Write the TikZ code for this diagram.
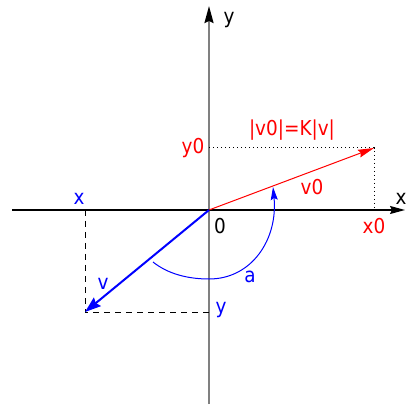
\documentclass[tikz,border=0pt]{standalone}
\usepackage{fontspec}
\setmainfont{DejaVu Sans Condensed}
\usetikzlibrary{arrows.meta}
\begin{document}
\begin{tikzpicture}[x=1pt,y=1pt,
  lbl/.style={inner sep=0pt,font=\fontsize{20.5}{23}\selectfont},
  axtip/.style={-{Stealth[length=15pt,width=8pt,inset=2pt]}},
  dotln/.style={line width=1pt,dash pattern=on 1.3pt off 2.7pt},
  dashln/.style={line width=1pt,dash pattern=on 6pt off 5pt}]
\useasboundingbox (0,0) rectangle (406,404);
% coordinates
\coordinate (O) at (209,194);
\coordinate (xs) at (12,194);
\coordinate (xe) at (405,194);
\coordinate (ys) at (209,0);
\coordinate (ye) at (209,398);
\coordinate (R) at (374,256);
\coordinate (Ry) at (209,256);
\coordinate (Rx) at (374,194);
\coordinate (B) at (85,92);
\coordinate (Bx) at (85,194);
\coordinate (By) at (209,92);
\coordinate (A1) at (153,142);
\coordinate (A2) at (209,125);
\coordinate (A3) at (273,217);
% axes
\draw[gray,line width=2pt,-{Stealth[length=17pt,width=9pt,inset=2pt,black]}] (ys) -- (ye);
\draw[black,line width=1.3pt,axtip] (xs) -- (xe);
% projections
\draw[dotln] (Ry) -- (R) -- (Rx);
\draw[dashln] (Bx) -- (B) -- (By);
% vectors
\draw[red,line width=1pt,-{Stealth[length=16pt,width=8pt,inset=2pt]}] (O) -- (R);
\draw[blue,line width=2pt,-{Stealth[length=16pt,width=11pt,inset=2pt]}] (O) -- (B);
% angle arc
\draw[blue,line width=1pt,-{Stealth[length=13pt,width=7pt,inset=2pt]}]
  (A1) .. controls (168,130) and (188,125) .. (A2)
       .. controls (252,125) and (278,165) .. (A3);
% labels
\node[lbl] (ly) at (229,384) {y};
\node[lbl] (lx) at (401,205) {x};
\node[lbl] (l0) at (220,178) {0};
\node[lbl,red] (ly0) at (193,256) {y0};
\node[lbl,red] (lk) at (292,274) {|v0|=K|v|};
\node[lbl,red] (lv0) at (312,217) {v0};
\node[lbl,red] (lx0) at (374,178) {x0};
\node[lbl,blue] (lbx) at (79,205) {x};
\node[lbl,blue] (lv) at (103,120) {v};
\node[lbl,blue] (la) at (250,127) {a};
\node[lbl,blue] (lby) at (221,94) {y};
\end{tikzpicture}
\end{document}
